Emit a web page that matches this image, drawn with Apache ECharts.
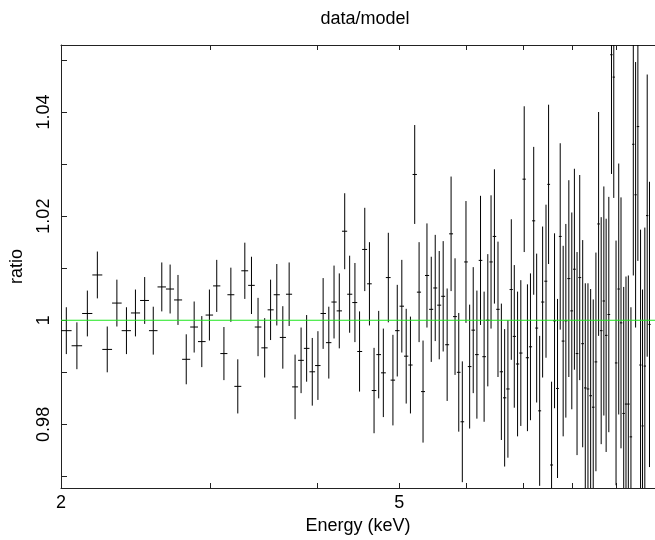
<!DOCTYPE html>
<html>
<head>
<meta charset="utf-8">
<script src="https://cdn.jsdelivr.net/npm/echarts@6/dist/echarts.min.js"></script>
<style>
  html, body { margin: 0; padding: 0; background: #fff; }
  #chart { width: 655px; height: 540px; }
</style>
</head>
<body>
<div id="chart"></div>
<script>
// ---- data ----
const energy = [
  2.029, 2.088, 2.148, 2.207, 2.267, 2.327, 2.388, 2.447, 2.509, 2.568,
  2.628, 2.688, 2.746, 2.808, 2.869, 2.929, 2.990, 3.050, 3.110, 3.169,
  3.229, 3.291, 3.351, 3.411, 3.473, 3.529, 3.589, 3.648, 3.711, 3.771,
  3.833, 3.891, 3.951, 4.012, 4.069, 4.132, 4.191, 4.251, 4.314, 4.372,
  4.435, 4.491, 4.555, 4.613, 4.671, 4.730, 4.790, 4.855, 4.916, 4.974,
  5.036, 5.096, 5.155, 5.215, 5.277, 5.334, 5.391, 5.454, 5.513, 5.573,
  5.633, 5.694, 5.755, 5.817, 5.876, 5.933, 5.992, 6.052, 6.111, 6.172,
  6.233, 6.294, 6.357, 6.413, 6.472, 6.535, 6.595, 6.654, 6.713, 6.775,
  6.830, 6.891, 6.952, 7.016, 7.078, 7.136, 7.199, 7.257, 7.316, 7.375,
  7.443, 7.495, 7.556, 7.617, 7.679, 7.735, 7.797, 7.854, 7.918, 7.982,
  8.038, 8.096, 8.155, 8.221, 8.279, 8.339, 8.400, 8.459, 8.521, 8.583,
  8.643, 8.706, 8.760, 8.824, 8.888, 8.943, 8.998, 9.064, 9.120, 9.187,
  9.244, 9.303, 9.369, 9.429, 9.488, 9.547, 9.616, 9.668, 9.728, 9.791,
  9.852
];
const ratio = [
  0.9980, 0.9951, 1.0013, 1.0087, 0.9944, 1.0033, 0.9980, 1.0014, 1.0038, 0.9980,
  1.0064, 1.0060, 1.0039, 0.9925, 0.9987, 0.9959, 1.0010, 1.0066, 0.9936, 1.0049,
  0.9873, 1.0095, 1.0067, 0.9987, 0.9947, 1.0020, 1.0049, 0.9967, 1.0050, 0.9872,
  0.9923, 0.9946, 0.9901, 0.9913, 1.0013, 0.9957, 1.0035, 1.0018, 1.0171, 1.0050,
  1.0034, 0.9940, 1.0136, 1.0070, 0.9865, 0.9934, 0.9899, 1.0082, 0.9885, 0.9980,
  1.0027, 0.9931, 0.9914, 1.0280, 1.0054, 0.9863, 1.0086, 1.0021, 1.0062, 1.0029,
  1.0046, 0.9953, 1.0166, 1.0007, 0.9900, 0.9805, 1.0112, 0.9911, 0.9981, 0.9934,
  1.0115, 0.9930, 1.0000, 1.0112, 1.0161, 1.0021, 0.9901, 0.9851, 0.9868, 1.0059,
  0.9969, 0.9916, 0.9937, 1.0271, 0.9928, 0.9949, 1.0191, 0.9985, 0.9826, 1.0035,
  1.0075, 1.0261, 0.9722, 0.9999, 0.9869, 1.0161, 0.9960, 0.9999, 1.0080, 1.0018,
  1.0098, 0.9936, 1.0082, 0.9955, 0.9870, 0.9868, 0.9855, 0.9833, 0.9920, 1.0185,
  0.9980, 1.0037, 0.9971, 1.0011, 1.0510, 1.0467, 0.9918, 1.0060, 0.9995, 0.9821,
  0.9839, 0.9839, 0.9776, 1.0338, 1.0241, 1.0372, 0.9914, 0.9797, 0.9912, 1.0201,
  0.9992
];
const ratioErr = [
  0.0045, 0.0045, 0.0044, 0.0045, 0.0044, 0.0045, 0.0045, 0.0045, 0.0045, 0.0046,
  0.0047, 0.0047, 0.0048, 0.0048, 0.0049, 0.0049, 0.0049, 0.0050, 0.0051, 0.0052,
  0.0052, 0.0054, 0.0055, 0.0056, 0.0057, 0.0058, 0.0059, 0.0060, 0.0061, 0.0062,
  0.0063, 0.0064, 0.0065, 0.0066, 0.0068, 0.0069, 0.0070, 0.0072, 0.0073, 0.0074,
  0.0076, 0.0077, 0.0080, 0.0080, 0.0082, 0.0084, 0.0085, 0.0086, 0.0087, 0.0088,
  0.0089, 0.0091, 0.0093, 0.0095, 0.0096, 0.0098, 0.0100, 0.0101, 0.0102, 0.0104,
  0.0106, 0.0108, 0.0110, 0.0112, 0.0114, 0.0116, 0.0117, 0.0119, 0.0121, 0.0123,
  0.0124, 0.0125, 0.0127, 0.0128, 0.0129, 0.0130, 0.0131, 0.0132, 0.0132, 0.0135,
  0.0137, 0.0139, 0.0140, 0.0140, 0.0141, 0.0141, 0.0142, 0.0143, 0.0144, 0.0145,
  0.0147, 0.0153, 0.0160, 0.0168, 0.0172, 0.0179, 0.0183, 0.0186, 0.0189, 0.0189,
  0.0193, 0.0195, 0.0197, 0.0199, 0.0201, 0.0203, 0.0205, 0.0207, 0.0210, 0.0215,
  0.0218, 0.0220, 0.0224, 0.0226, 0.0229, 0.0232, 0.0235, 0.0241, 0.0241, 0.0243,
  0.0245, 0.0247, 0.0249, 0.0252, 0.0255, 0.0258, 0.0260, 0.0262, 0.0266, 0.0271,
  0.0274
];
const xTicks = [2, 3, 4, 5, 6, 7, 8, 9, 10];
const xLabels = [2, 5];
const yTicks = [0.97, 0.98, 0.99, 1.00, 1.01, 1.02, 1.03, 1.04, 1.05];
const yLabels = [0.98, 1.00, 1.02, 1.04];
const modelLine = [[2, 1], [10, 1]];

// ---- build bars (bin edges halfway between neighbouring centres, in log space) ----
const rows = energy.map((e, i) => {
  const prev = i > 0 ? energy[i - 1] : e * e / energy[i + 1];
  const next = i < energy.length - 1 ? energy[i + 1] : e * e / energy[i - 1];
  return [e, ratio[i], ratioErr[i], Math.sqrt(prev * e), Math.sqrt(e * next)];
});

const FONT = "'Liberation Sans', Arial, Helvetica, sans-serif";
const AX = '#222';

const chart = echarts.init(document.getElementById('chart'), null, { renderer: 'canvas' });
chart.setOption({
  animation: false,
  backgroundColor: '#fff',
  title: {
    text: 'data/model',
    left: 360, top: 5, textAlign: 'center',
    textStyle: { fontFamily: FONT, fontSize: 18, fontWeight: 'normal', color: '#000' }
  },
  grid: { left: 60.7, top: 45, width: 599, height: 444.3, containLabel: false },
  xAxis: [{
    type: 'log', logBase: 10, min: 2, max: 10, position: 'bottom',
    name: 'Energy (keV)', nameLocation: 'middle', nameGap: 29,
    nameTextStyle: { fontFamily: FONT, fontSize: 18, color: '#000' },
    axisLine: { show: true, lineStyle: { color: AX, width: 1 } },
    axisTick: { show: true, inside: true, length: 5, customValues: xTicks, lineStyle: { color: AX } },
    minorTick: { show: false },
    axisLabel: { show: true, customValues: xLabels, margin: 6, fontFamily: FONT, fontSize: 18, color: '#000' },
    splitLine: { show: false }
  }, {
    type: 'log', logBase: 10, min: 2, max: 10, position: 'top',
    axisLine: { show: true, lineStyle: { color: AX, width: 1 } },
    axisTick: { show: true, inside: true, length: 5, customValues: xTicks, lineStyle: { color: AX } },
    axisLabel: { show: false },
    splitLine: { show: false }
  }],
  yAxis: [{
    type: 'value', min: 0.96778, max: 1.05287, position: 'left',
    name: 'ratio', nameLocation: 'middle', nameGap: 35, nameRotate: 90,
    nameTextStyle: { fontFamily: FONT, fontSize: 18, color: '#000' },
    axisLine: { show: true, lineStyle: { color: AX, width: 1 } },
    axisTick: { show: true, inside: true, length: 6, customValues: yTicks, lineStyle: { color: AX } },
    axisLabel: {
      show: true, customValues: yLabels, rotate: 90, margin: 8,
      fontFamily: FONT, fontSize: 18, color: '#000',
      formatter: v => String(Math.round(v * 100) / 100)
    },
    splitLine: { show: false }
  }],
  series: [{
    type: 'custom',
    xAxisIndex: 0, yAxisIndex: 0,
    clip: true,
    data: rows,
    renderItem: (params, api) => {
      const e = api.value(0), r = api.value(1), er = api.value(2), lo = api.value(3), hi = api.value(4);
      const t = api.coord([e, r + er]);
      const b = api.coord([e, r - er]);
      const l = api.coord([lo, r]);
      const h = api.coord([hi, r]);
      const st = { stroke: '#000', lineWidth: 1 };
      return {
        type: 'group',
        children: [
          { type: 'line', shape: { x1: t[0], y1: t[1], x2: b[0], y2: b[1] }, style: st },
          { type: 'line', shape: { x1: l[0], y1: l[1], x2: h[0], y2: h[1] }, style: st }
        ]
      };
    }
  }, {
    type: 'line',
    data: modelLine,
    symbol: 'none',
    lineStyle: { color: '#1ee61e', width: 1 },
    z: 5
  }]
});
</script>
</body>
</html>
